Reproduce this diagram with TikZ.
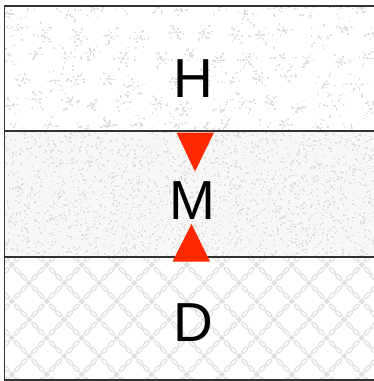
\documentclass[tikz,border=0pt]{standalone}
\usepackage{fontspec}
\setmainfont{Liberation Sans}
\definecolor{tri}{RGB}{255,40,0}
\definecolor{edge}{RGB}{50,50,50}
\definecolor{tex}{RGB}{222,222,222}
\tikzset{
  sep/.style={draw=edge,line width=1.6pt},
  lbl/.style={font=\fontsize{55}{55}\selectfont,text=black,inner sep=0pt},
  marker/.style={fill=tri,draw=none},
  dot/.style={fill=tex,draw=none},
  link/.style={draw=tex,line width=1.1pt}
}
\begin{document}
\begin{tikzpicture}[x=1pt,y=-1pt]
\useasboundingbox (0,0) rectangle (374,381);
\fill[white] (0,0) rectangle (374,381);
\pgfmathsetseed{11}
% H band texture: snowflake clusters on a jittered grid
\begin{scope}
\clip (5,6) rectangle (374,131);
\foreach \gi in {0,...,12}{
  \foreach \gj in {0,...,5}{
    \pgfmathsetmacro{\cx}{5+30*\gi+15*mod(\gj,2)+14*(rnd-0.5)}
    \pgfmathsetmacro{\cy}{8+24*\gj+12*(rnd-0.5)}
    \pgfmathsetmacro{\cs}{7+9*rnd}
    \foreach \k in {1,...,26}{
      \pgfmathsetmacro{\ang}{60*int(6*rnd)+22*(rnd-0.5)}
      \pgfmathsetmacro{\rad}{\cs*rnd}
      \fill[dot] ({\cx+\rad*cos(\ang)},{\cy+\rad*sin(\ang)}) rectangle ++(1.5,1.5);
    }
  }
}
\end{scope}
% M band texture: dense noise
\begin{scope}
\clip (5,131) rectangle (374,257);
\fill[tex!25] (5,131) rectangle (374,257);
\foreach \k in {1,...,2600}{
  \fill[dot] ({5+370*rnd},{131+127*rnd}) rectangle ++(1.5,1.5);
}
\end{scope}
% D band texture: chain lattice
\begin{scope}
\clip (5,257) rectangle (374,380);
\foreach \i in {-2,...,11}{
  \foreach \j in {-2,...,7}{
    \pgfmathsetmacro{\px}{46.7+35*\i+17.5*mod(\j+20,2)}
    \pgfmathsetmacro{\py}{264.7+18.3*\j}
    \fill[dot,rotate around={45:(\px,\py)}] (\px-2.2,\py-2.2) rectangle (\px+2.2,\py+2.2);
    \draw[link,rotate around={-46:(\px+5.6,\py+5.9)}] (\px+5.6,\py+5.9) ellipse (4.2 and 1.7);
    \draw[link,rotate around={-46:(\px+12.0,\py+12.5)}] (\px+12.0,\py+12.5) ellipse (4.2 and 1.7);
    \draw[link,rotate around={46:(\px-5.6,\py+5.9)}] (\px-5.6,\py+5.9) ellipse (4.2 and 1.7);
    \draw[link,rotate around={46:(\px-12.0,\py+12.5)}] (\px-12.0,\py+12.5) ellipse (4.2 and 1.7);
  }
}
\end{scope}
% frame lines
\coordinate (tl) at (4.5,6);
\coordinate (tr) at (374,6);
\coordinate (m1l) at (4.5,131);
\coordinate (m1r) at (374,131);
\coordinate (m2l) at (4.5,257);
\coordinate (m2r) at (374,257);
\coordinate (bl) at (4.5,380);
\coordinate (br) at (374,380);
\draw[sep] (tl) -- (tr);
\draw[sep] (m1l) -- (m1r);
\draw[sep] (m2l) -- (m2r);
\draw[sep] (bl) -- (br);
\draw[sep] (4.5,5.2) -- (4.5,380.8);
% labels
\node[lbl] (H) at (193.5,78.5) {H};
\node[lbl] (M) at (192.5,201) {M};
\node[lbl] (D) at (193,322.5) {D};
% markers
\fill[marker] (176.5,132.5) -- (214,132.5) -- (195,171.5) -- cycle;
\fill[marker] (172.5,261.5) -- (210,261.5) -- (191.5,224) -- cycle;
\end{tikzpicture}
\end{document}
